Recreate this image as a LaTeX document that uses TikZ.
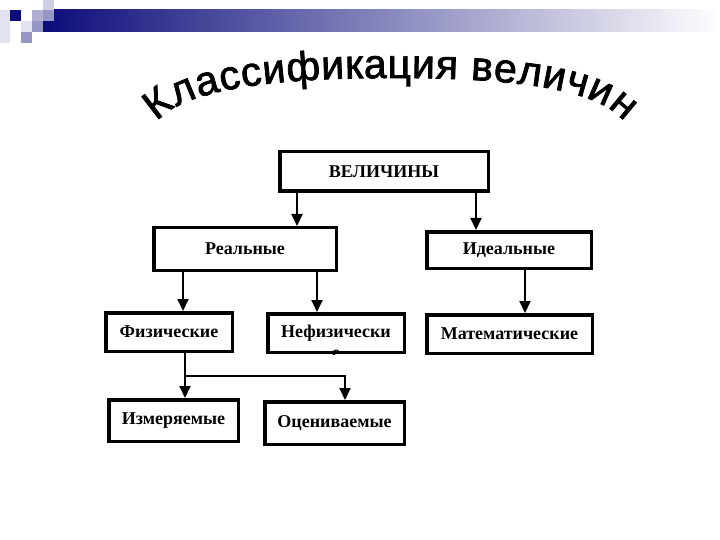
\documentclass[tikz,border=0pt]{standalone}
\usepackage{fontspec}
\setmainfont{Liberation Serif}
\newfontfamily\titlefont[FakeBold=1.8]{Liberation Sans}
\usetikzlibrary{arrows.meta,decorations.text}
\definecolor{navy}{RGB}{12,12,122}
\definecolor{sqdark}{RGB}{150,150,196}
\definecolor{sqmid}{RGB}{176,176,212}
\definecolor{sqlight}{RGB}{206,206,228}
\definecolor{sqpale}{RGB}{226,226,240}

\begin{document}
\begin{tikzpicture}[x=1pt,y=1pt,
  box/.style={draw,rectangle,line width=3.5pt,inner sep=0pt,font=\bfseries\fontsize{18}{21}\selectfont},
  arr/.style={-{Triangle[length=12pt,width=11pt]},line width=2pt}]
\fill[white] (0,0) rectangle (720,-540);
\useasboundingbox (0,0) rectangle (720,-540);

% banner
\shade[left color=navy,right color=white] (43,-10) rectangle (720,-32);
\fill[sqpale] (0,-10) rectangle (10,-43);
\fill[navy] (10,-10) rectangle (21,-21);
\fill[sqlight] (43,0) rectangle (54,-10);
\fill[sqmid] (32,-10) rectangle (43,-21);
\fill[sqdark] (43,-10) rectangle (54,-21);
\fill[sqpale] (21,-21) rectangle (32,-32);
\fill[sqdark] (32,-21) rectangle (43,-32);
\fill[sqdark] (21,-32) rectangle (32,-43);

% title
\path[decorate,decoration={text along path,text align=fit to path,
  text={|\titlefont\fontsize{41}{41}\selectfont|Классификация величин}}]
  (157,-122) .. controls (187,-86) and (290,-78) .. (392,-78)
  .. controls (494,-78) and (596,-85) .. (624,-122);

\node[box,minimum width=208.5pt,minimum height=39.5pt] (V) at (384,-171.5) {ВЕЛИЧИНЫ};
\node[box,minimum width=182.5pt,minimum height=42.5pt] (R) at (245,-249) {Реальные};
\node[box,minimum width=164.5pt,minimum height=36.5pt] (I) at (509,-250) {Идеальные};
\node[box,minimum width=126.5pt,minimum height=38.5pt] (F) at (169,-332) {Физические};
\node[box,minimum width=136.5pt,minimum height=38.5pt] (NF) at (336,-333) {Нефизически};
\node[box,minimum width=165.5pt,minimum height=38.5pt] (M) at (509.5,-334) {Математические};
\node[box,minimum width=129.5pt,minimum height=41.5pt] (IZ) at (173.5,-420.5) {Измеряемые};
\node[box,minimum width=139.5pt,minimum height=42.5pt] (OC) at (334.5,-423) {Оцениваемые};

% cut-off last letter
\begin{scope}
\clip (NF.south west) rectangle (NF.north east);
\node[anchor=north,inner sep=0pt,font=\bfseries\fontsize{18}{21}\selectfont] at ([yshift=4.5pt]NF.south) {е};
\end{scope}

\draw[arr] ([xshift=-87pt]V.south) -- ([xshift=-87pt]V.south |- R.north);
\draw[arr] ([xshift=92pt]V.south) -- ([xshift=92pt]V.south |- I.north);
\draw[arr] ([xshift=-62pt]R.south) -- ([xshift=-62pt]R.south |- F.north);
\draw[arr] ([xshift=72pt]R.south) -- ([xshift=72pt]R.south |- NF.north);
\draw[arr] ([xshift=16pt]I.south) -- ([xshift=16pt]I.south |- M.north);
\draw[arr] ([xshift=16pt]F.south) -- ([xshift=16pt]F.south |- IZ.north);
\draw[arr] ([xshift=16pt]F.south) -- ++(0,-23) -| ([xshift=10.5pt]OC.north);

\end{tikzpicture}
\end{document}
